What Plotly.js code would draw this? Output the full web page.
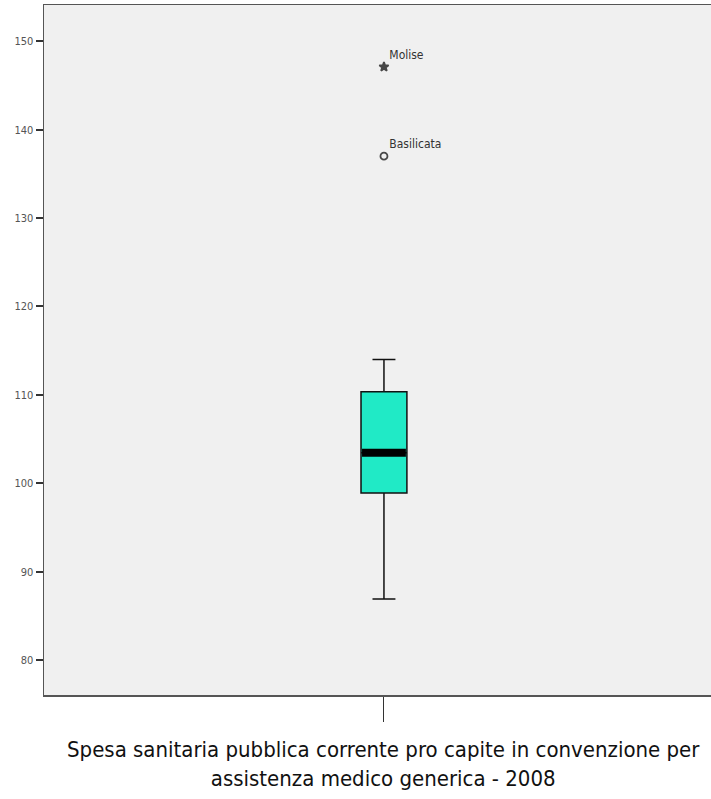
<!DOCTYPE html>
<html>
<head>
<meta charset="utf-8">
<script src="https://cdn.plot.ly/plotly-3.0.1.min.js"></script>
<style>html,body{margin:0;padding:0;background:#fff;overflow:hidden}</style>
</head>
<body>
<div id="chart" style="width:711px;height:799px"></div>
<script>
// Data
const categoryLabel = "Spesa sanitaria pubblica corrente pro capite in convenzione per<br>assistenza medico generica - 2008";
const q1 = [98.9];
const median = [103.45];
const q3 = [110.35];
const lowerWhisker = [86.9];
const upperWhisker = [114.0];
const outlierNames = ["Molise", "Basilicata"];
const outlierValues = [147.1, 137.0];
const outlierSymbols = ["star", "circle-open"];
const yTicks = [80, 90, 100, 110, 120, 130, 140, 150];

const narrow = "DejaVu Sans Condensed, Liberation Sans Narrow, Arial Narrow, sans-serif";
const boxWidth = 0.135;
const traces = [
  {
    type: "box",
    x: [0],
    q1: q1, median: median, q3: q3,
    lowerfence: lowerWhisker, upperfence: upperWhisker,
    width: boxWidth,
    whiskerwidth: 0.5,
    fillcolor: "#20EAC6",
    line: {color: "#111", width: 1.5},
    boxpoints: false,
    hoverinfo: "skip",
    showlegend: false
  },
  {
    type: "scatter", mode: "lines",
    x: [-boxWidth/2 + 0.003, boxWidth/2 - 0.003],
    y: [median[0], median[0]],
    line: {color: "#000", width: 8},
    hoverinfo: "skip", showlegend: false
  },
  {
    type: "scatter", mode: "markers+text",
    x: outlierValues.map(() => 0),
    y: outlierValues,
    text: outlierNames,
    textposition: "top right",
    textfont: {family: narrow, size: 12, color: "#333"},
    marker: {symbol: outlierSymbols, size: [7, 7], color: "#000", line: {color: "#000", width: 1.8}},
    hoverinfo: "skip", showlegend: false
  }
];

const layout = {
  width: 711, height: 799,
  margin: {l: 44, r: 0, t: 5, b: 104},
  paper_bgcolor: "#ffffff",
  plot_bgcolor: "#f0f0f0",
  showlegend: false,
  xaxis: {
    range: [-1, 0.962],
    tickmode: "array", tickvals: [0], ticktext: [""],
    ticks: "outside", ticklen: 25, tickwidth: 1, tickcolor: "#333",
    showgrid: false, zeroline: false,
    showline: true, linecolor: "#555", linewidth: 1.5, mirror: true
  },
  yaxis: {
    range: [76.05, 154.1],
    tickmode: "array", tickvals: yTicks,
    ticks: "outside", ticklen: 7, tickwidth: 2, tickcolor: "#333",
    tickfont: {family: narrow, size: 11, color: "#555"},
    showgrid: false, zeroline: false,
    showline: true, linecolor: "#555", linewidth: 1.5
  },
  annotations: [{
    xref: "x", x: 0, yref: "paper", y: 0,
    xanchor: "center", yanchor: "top", yshift: -40,
    text: categoryLabel, showarrow: false, align: "center",
    font: {family: narrow, size: 22, color: "#111"}
  }]
};

Plotly.newPlot("chart", traces, layout, {displayModeBar: false, staticPlot: true});
</script>
</body>
</html>
